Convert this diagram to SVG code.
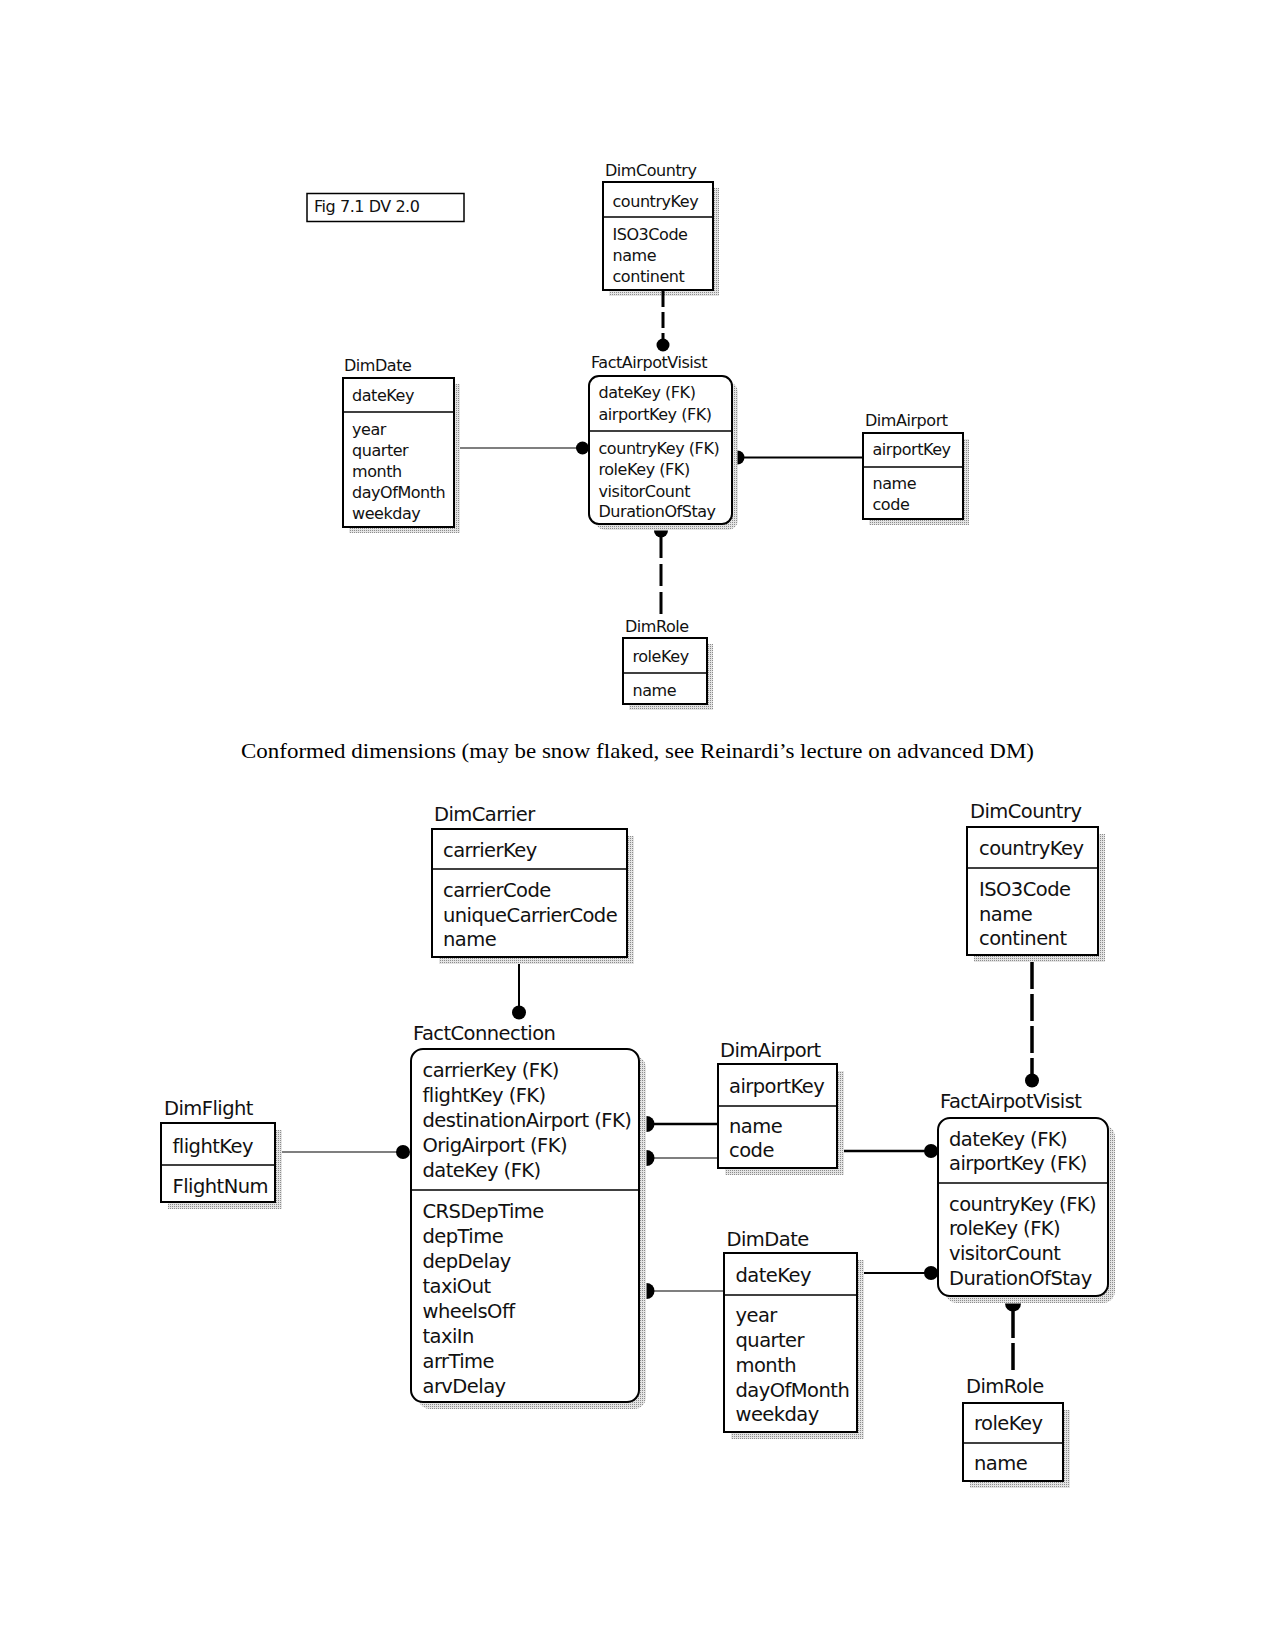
<svg xmlns="http://www.w3.org/2000/svg" width="1275" height="1651" viewBox="0 0 1275 1651">
<defs>
<pattern id="dots" width="2" height="2" patternUnits="userSpaceOnUse">
<rect width="2" height="2" fill="#e4e4e4"/>
<rect width="1" height="1" fill="#8c8c8c"/>
</pattern>
<clipPath id="clipTopFact"><rect x="589" y="376" width="143" height="144"/></clipPath>
<clipPath id="clipFC"><rect x="411" y="1049" width="228" height="349"/></clipPath>
<clipPath id="clipFAV"><rect x="938" y="1118" width="170" height="172"/></clipPath>
</defs>
<style>
.box{fill:#fff;stroke:#000;stroke-width:2}
.div{stroke:#000;stroke-width:1.6}
.sh{fill:url(#dots)}
.s{font-family:"DejaVu Sans",sans-serif;font-size:16px;letter-spacing:-0.45px;fill:#111}
.b{font-family:"DejaVu Sans",sans-serif;font-size:19.5px;letter-spacing:-0.55px;fill:#111}
.ln{stroke:#000;fill:none}
.dot{fill:#000}
</style>
<rect width="1275" height="1651" fill="#fff"/>

<g id="fig-label">
<rect x="307" y="193.5" width="157" height="28" fill="#fff" stroke="#000" stroke-width="1.5"/>
<text class="s" x="314" y="212">Fig 7.1 DV 2.0</text>
</g>

<g id="caption">
<text x="241" y="758" font-family="'Liberation Serif',serif" font-size="22" textLength="793" lengthAdjust="spacingAndGlyphs">Conformed dimensions (may be snow flaked, see Reinardi’s lecture on advanced DM)</text>
</g>

<!-- TOP SECTION -->
<g id="top-dimcountry">
<rect class="sh" x="609" y="188" width="110" height="108"/>
<rect class="box" x="603" y="182" width="110" height="108"/>
<line class="div" x1="603" y1="217" x2="713" y2="217"/>
<text class="s" x="605" y="176">DimCountry</text>
<text class="s" x="612.5" y="206.5">countryKey</text>
<text class="s" x="612.5" y="240">ISO3Code</text>
<text class="s" x="612.5" y="261">name</text>
<text class="s" x="612.5" y="281.5">continent</text>
</g>

<g id="top-factairpotvisist">
<rect class="sh" x="595" y="382" width="143" height="148" rx="10"/>
<rect class="box" x="589" y="376" width="143" height="148" rx="10"/>
<line class="div" x1="589" y1="431" x2="732" y2="431"/>
<text class="s" x="591" y="368">FactAirpotVisist</text>
<g clip-path="url(#clipTopFact)">
<text class="s" x="598.5" y="398">dateKey (FK)</text>
<text class="s" x="598.5" y="420">airportKey (FK)</text>
<text class="s" x="598.5" y="453.5">countryKey (FK)</text>
<text class="s" x="598.5" y="475">roleKey (FK)</text>
<text class="s" x="598.5" y="496.5">visitorCount</text>
<text class="s" x="598.5" y="517">DurationOfStay</text>
</g>
</g>

<g id="top-dimdate">
<rect class="sh" x="349" y="384" width="111" height="149"/>
<rect class="box" x="343" y="378" width="111" height="149"/>
<line class="div" x1="343" y1="412" x2="454" y2="412"/>
<text class="s" x="344" y="371">DimDate</text>
<text class="s" x="352" y="400.5">dateKey</text>
<text class="s" x="352" y="435">year</text>
<text class="s" x="352" y="456">quarter</text>
<text class="s" x="352" y="477">month</text>
<text class="s" x="352" y="498">dayOfMonth</text>
<text class="s" x="352" y="519">weekday</text>
</g>

<g id="top-dimairport">
<rect class="sh" x="869" y="439" width="100" height="86"/>
<rect class="box" x="863" y="433" width="100" height="86"/>
<line class="div" x1="863" y1="467" x2="963" y2="467"/>
<text class="s" x="865" y="426">DimAirport</text>
<text class="s" x="872.5" y="455">airportKey</text>
<text class="s" x="872.5" y="489">name</text>
<text class="s" x="872.5" y="510">code</text>
</g>

<g id="top-dimrole">
<rect class="sh" x="629" y="644" width="84" height="66"/>
<rect class="box" x="623" y="638" width="84" height="66"/>
<line class="div" x1="623" y1="673" x2="707" y2="673"/>
<text class="s" x="625" y="631.5">DimRole</text>
<text class="s" x="632.5" y="661.5">roleKey</text>
<text class="s" x="632.5" y="696">name</text>
</g>

<!-- BOTTOM SECTION -->
<g id="dimcarrier">
<rect class="sh" x="439" y="836" width="195" height="128"/>
<rect class="box" x="432" y="829" width="195" height="128"/>
<line class="div" x1="432" y1="869" x2="627" y2="869"/>
<text class="b" x="434" y="820.5">DimCarrier</text>
<text class="b" x="443" y="856.5">carrierKey</text>
<text class="b" x="443" y="896.5">carrierCode</text>
<text class="b" x="443" y="921.5">uniqueCarrierCode</text>
<text class="b" x="443" y="946">name</text>
</g>

<g id="factconnection">
<rect class="sh" x="418" y="1056" width="228" height="353" rx="12"/>
<rect class="box" x="411" y="1049" width="228" height="353" rx="12"/>
<line class="div" x1="411" y1="1190" x2="639" y2="1190"/>
<text class="b" x="413" y="1040">FactConnection</text>
<g clip-path="url(#clipFC)">
<text class="b" x="422.5" y="1076.5">carrierKey (FK)</text>
<text class="b" x="422.5" y="1101.5">flightKey (FK)</text>
<text class="b" x="422.5" y="1126.5">destinationAirport (FK)</text>
<text class="b" x="422.5" y="1151.5">OrigAirport (FK)</text>
<text class="b" x="422.5" y="1176.5">dateKey (FK)</text>
<text class="b" x="422.5" y="1218">CRSDepTime</text>
<text class="b" x="422.5" y="1243">depTime</text>
<text class="b" x="422.5" y="1268">depDelay</text>
<text class="b" x="422.5" y="1293">taxiOut</text>
<text class="b" x="422.5" y="1318">wheelsOff</text>
<text class="b" x="422.5" y="1343">taxiIn</text>
<text class="b" x="422.5" y="1368">arrTime</text>
<text class="b" x="422.5" y="1393">arvDelay</text>
</g>
</g>

<g id="dimflight">
<rect class="sh" x="168" y="1130" width="114" height="79"/>
<rect class="box" x="161" y="1123" width="114" height="79"/>
<line class="div" x1="161" y1="1165" x2="275" y2="1165"/>
<text class="b" x="164" y="1115">DimFlight</text>
<text class="b" x="172.5" y="1153">flightKey</text>
<text class="b" x="172.5" y="1193">FlightNum</text>
</g>

<g id="dimairport">
<rect class="sh" x="725" y="1071" width="119" height="104"/>
<rect class="box" x="718" y="1064" width="119" height="104"/>
<line class="div" x1="718" y1="1106" x2="837" y2="1106"/>
<text class="b" x="720" y="1056.5">DimAirport</text>
<text class="b" x="729" y="1093">airportKey</text>
<text class="b" x="729" y="1132.5">name</text>
<text class="b" x="729" y="1157">code</text>
</g>

<g id="dimdate">
<rect class="sh" x="731" y="1260" width="133" height="179"/>
<rect class="box" x="724" y="1253" width="133" height="179"/>
<line class="div" x1="724" y1="1295" x2="857" y2="1295"/>
<text class="b" x="726.5" y="1246">DimDate</text>
<text class="b" x="735.5" y="1281.5">dateKey</text>
<text class="b" x="735.5" y="1321.5">year</text>
<text class="b" x="735.5" y="1346.5">quarter</text>
<text class="b" x="735.5" y="1371.5">month</text>
<text class="b" x="735.5" y="1396.5">dayOfMonth</text>
<text class="b" x="735.5" y="1420.5">weekday</text>
</g>

<g id="dimcountry">
<rect class="sh" x="974" y="834" width="131" height="128"/>
<rect class="box" x="967" y="827" width="131" height="128"/>
<line class="div" x1="967" y1="868" x2="1098" y2="868"/>
<text class="b" x="970" y="818">DimCountry</text>
<text class="b" x="979" y="855">countryKey</text>
<text class="b" x="979" y="896">ISO3Code</text>
<text class="b" x="979" y="920.5">name</text>
<text class="b" x="979" y="945">continent</text>
</g>

<g id="factairpotvisist">
<rect class="sh" x="945" y="1125" width="170" height="178" rx="12"/>
<rect class="box" x="938" y="1118" width="170" height="178" rx="12"/>
<line class="div" x1="938" y1="1183" x2="1108" y2="1183"/>
<text class="b" x="940" y="1108">FactAirpotVisist</text>
<g clip-path="url(#clipFAV)">
<text class="b" x="949" y="1145.5">dateKey (FK)</text>
<text class="b" x="949" y="1170">airportKey (FK)</text>
<text class="b" x="949" y="1210.5">countryKey (FK)</text>
<text class="b" x="949" y="1235">roleKey (FK)</text>
<text class="b" x="949" y="1260">visitorCount</text>
<text class="b" x="949" y="1285">DurationOfStay</text>
</g>
</g>

<g id="dimrole">
<rect class="sh" x="970" y="1410" width="100" height="78"/>
<rect class="box" x="963" y="1403" width="100" height="78"/>
<line class="div" x1="963" y1="1443" x2="1063" y2="1443"/>
<text class="b" x="966" y="1393">DimRole</text>
<text class="b" x="974" y="1430">roleKey</text>
<text class="b" x="974" y="1470">name</text>
</g>

<g id="connectors">
<!-- top -->
<line class="ln" x1="663" y1="291" x2="663" y2="339" stroke-width="3" stroke-dasharray="16 5"/>
<circle class="dot" cx="663" cy="345" r="6.5"/>
<line class="ln" x1="460" y1="448" x2="577" y2="448" stroke-width="1.2"/>
<circle class="dot" cx="582.5" cy="448" r="6.5"/>
<line class="ln" x1="738" y1="457.5" x2="863" y2="457.5" stroke-width="2"/>
<path class="dot" d="M737.5 450.5 A7 7 0 0 1 737.5 464.5 Z"/>
<path class="dot" d="M654 530.5 A7 7 0 0 0 668 530.5 Z"/>
<line class="ln" x1="661" y1="536" x2="661" y2="615" stroke-width="3" stroke-dasharray="22 6"/>
<!-- bottom -->
<line class="ln" x1="519" y1="964" x2="519" y2="1007" stroke-width="2"/>
<circle class="dot" cx="519" cy="1012.5" r="7"/>
<line class="ln" x1="282" y1="1152" x2="397" y2="1152" stroke-width="1.2"/>
<circle class="dot" cx="403" cy="1152" r="7"/>
<path class="dot" d="M646.5 1116 A8 8 0 0 1 646.5 1132 Z"/>
<line class="ln" x1="647" y1="1124" x2="718" y2="1124" stroke-width="2.5"/>
<path class="dot" d="M646.5 1150 A8 8 0 0 1 646.5 1166 Z"/>
<line class="ln" x1="647" y1="1158" x2="718" y2="1158" stroke-width="1.2"/>
<path class="dot" d="M646.5 1283 A8 8 0 0 1 646.5 1299 Z"/>
<line class="ln" x1="647" y1="1291" x2="724" y2="1291" stroke-width="1.2"/>
<line class="ln" x1="844" y1="1151" x2="925" y2="1151" stroke-width="2.5"/>
<circle class="dot" cx="931" cy="1151" r="7"/>
<line class="ln" x1="864" y1="1273" x2="925" y2="1273" stroke-width="2"/>
<circle class="dot" cx="931" cy="1273" r="7"/>
<line class="ln" x1="1032" y1="962" x2="1032" y2="1074" stroke-width="3.5" stroke-dasharray="27 5"/>
<circle class="dot" cx="1032" cy="1080.5" r="7"/>
<path class="dot" d="M1005 1303.5 A8 8 0 0 0 1021 1303.5 Z"/>
<line class="ln" x1="1013" y1="1311" x2="1013" y2="1375" stroke-width="3.5" stroke-dasharray="27 5"/>
</g>
</svg>
